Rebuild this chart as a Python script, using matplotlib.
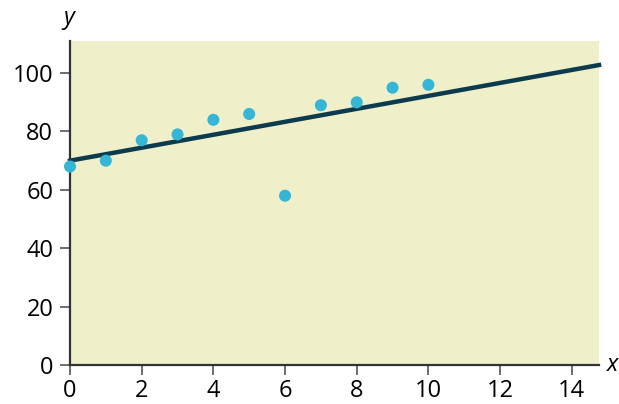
import numpy as np
import matplotlib.pyplot as plt

plt.rcParams['font.family'] = ['Open Sans', 'DejaVu Sans']

x_vals = [0, 1, 2, 3, 4, 5, 6, 7, 8, 9, 10]
y_vals = [68, 70, 77, 79, 84, 86, 58, 89, 90, 95, 96]
line_intercept = 70.0
line_slope = 2.22
x_ticks = [0, 2, 4, 6, 8, 10, 12, 14]
y_ticks = [0, 20, 40, 60, 80, 100]

fig = plt.figure(figsize=(6.19, 4.04), dpi=100)
ax = fig.add_axes([70/619, 39/404, 529/619, 324/404])
ax.set_facecolor('#efefca')

xmax = 14.76
ax.set_xlim(0, xmax)
ax.set_ylim(0, 111)

lx = np.array([0, xmax])
ax.plot(lx, line_intercept + line_slope*lx, color='#0b3b4d', lw=3.2, zorder=2, clip_on=False)
ax.scatter(x_vals, y_vals, s=75, color='#35b6d6', edgecolor='none', zorder=3, clip_on=False)

for s in ['top', 'right']:
  ax.spines[s].set_visible(False)
for s in ['left', 'bottom']:
  ax.spines[s].set_color('#333333')
  ax.spines[s].set_linewidth(1.6)

ax.set_xticks(x_ticks)
ax.set_yticks(y_ticks)
ax.tick_params(direction='out', length=7, width=1.2, color='#555555', labelsize=17, pad=5)
ax.tick_params(axis='x', pad=3)

fig.text(613/619, 1 - 365/404, 'x', style='italic', fontsize=17, ha='center', va='center')
fig.text(69/619, 1 - 18/404, 'y', style='italic', fontsize=17, ha='center', va='center')

fig.savefig('out.png', dpi=100)
